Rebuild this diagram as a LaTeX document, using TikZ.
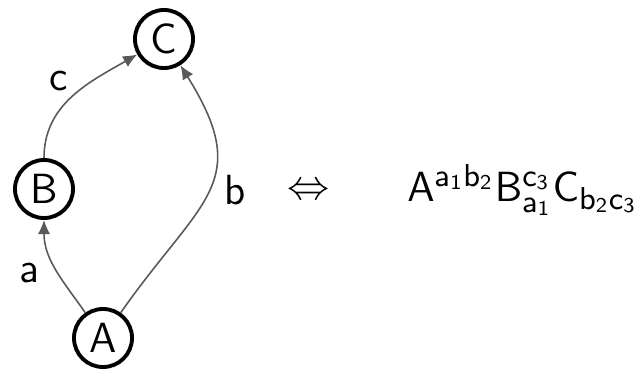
\documentclass[tikz,border=0pt]{standalone}
\usepackage{amsmath,amssymb}
\usepackage{tikz}
\usetikzlibrary{arrows.meta,positioning}

\begin{document}
\begin{tikzpicture}[
  x=0.01cm,y=-0.01cm,
  font=\fontsize{12}{14}\selectfont\sffamily,
  vertex/.style={draw,circle,line width=1.1pt,inner sep=0pt,minimum size=0.58cm},
  flow/.style={-{Latex[length=4pt,width=3.5pt]},line width=0.45pt,draw=black!65},
  lbl/.style={font=\fontsize{12}{14}\selectfont\sffamily}
]
  \useasboundingbox (0,0) rectangle (643,370);
  \node[vertex] (C) at (164,39) {C};
  \node[vertex] (B) at (44,189) {B};
  \node[vertex] (A) at (103,338) {A};

  \draw[flow] (A) to[out=125,in=-90] node[pos=0.45,left=2pt,lbl]{a} (B);
  \draw[flow] (B) to[out=90,in=210] node[pos=0.5,above left=-3pt,lbl]{c} (C);
  \draw[flow] (A) to[out=55,in=-58,looseness=1.4] node[pos=0.5,right=1pt,lbl]{b} (C);

  \node[lbl] (iff) at (309,192) {$\Leftrightarrow$};
  \node[lbl,anchor=west,font=\fontsize{12.5}{14}\selectfont] (word) at (395,190) {$\mathsf{A^{a_1b_2}B^{c_3}_{a_1}C_{b_2c_3}}$};
\end{tikzpicture}
\end{document}
